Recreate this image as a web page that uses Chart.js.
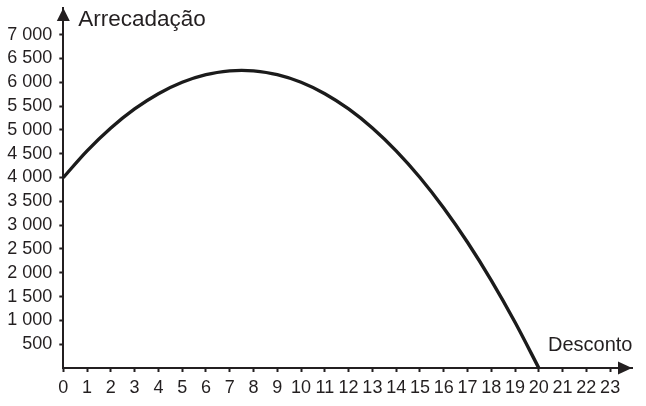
<!DOCTYPE html>
<html>
<head>
<meta charset="utf-8">
<script src="https://cdn.jsdelivr.net/npm/chart.js@4/dist/chart.umd.min.js"></script>
<style>
html,body{margin:0;padding:0;background:#fff;}
#wrap{width:646px;height:406px;position:relative;}
</style>
</head>
<body>
<div id="wrap"><canvas id="c" width="646" height="406"></canvas></div>
<script>
// Desconto values (x) and Arrecadação values (y)
const desconto = [0, 1, 2, 3, 4, 5, 6, 7, 7.5, 8, 9, 10, 11, 12, 13, 14, 15, 16, 17, 18, 19, 20];
const arrecadacao = [4000, 4560, 5040, 5440, 5760, 6000, 6160, 6240, 6250, 6240, 6160, 6000, 5760, 5440, 5040, 4560, 4000, 3360, 2640, 1840, 960, 0];
const xTicks = [0,1,2,3,4,5,6,7,8,9,10,11,12,13,14,15,16,17,18,19,20,21,22,23];
const yTicks = [500,1000,1500,2000,2500,3000,3500,4000,4500,5000,5500,6000,6500,7000];
const yTitle = 'Arrecadação';
const xTitle = 'Desconto';

const ink = '#231f20';
const fmt = v => String(v).replace(/\B(?=(\d{3})+(?!\d))/g, ' ');
const tickFont = { family: '"Liberation Sans", Arial, sans-serif', size: 18 };

const decor = {
  id: 'decor',
  afterDraw(chart) {
    const ctx = chart.ctx;
    const a = chart.chartArea;
    const xs = chart.scales.x, ys = chart.scales.y;
    const x0 = xs.getPixelForValue(0), y0 = ys.getPixelForValue(0);
    ctx.save();
    ctx.fillStyle = ink;
    // y arrow
    ctx.beginPath();
    ctx.moveTo(x0, a.top);
    ctx.lineTo(x0 - 6.5, a.top + 13);
    ctx.lineTo(x0 + 6.5, a.top + 13);
    ctx.closePath();
    ctx.fill();
    // x arrow
    ctx.beginPath();
    ctx.moveTo(a.right, y0);
    ctx.lineTo(a.right - 14, y0 - 6.5);
    ctx.lineTo(a.right - 14, y0 + 6.5);
    ctx.closePath();
    ctx.fill();
    ctx.textBaseline = 'alphabetic';
    ctx.textAlign = 'left';
    ctx.font = '22.5px "Liberation Sans", Arial, sans-serif';
    ctx.fillText(yTitle, x0 + 15, a.top + 18);
    ctx.font = '20px "Liberation Sans", Arial, sans-serif';
    ctx.fillText(xTitle, a.right - 84, y0 - 17);
    ctx.restore();
  }
};

new Chart(document.getElementById('c'), {
  type: 'line',
  data: {
    datasets: [{
      data: desconto.map((d, i) => ({x: d, y: arrecadacao[i]})),
      borderColor: '#1b1b1b',
      borderWidth: 3.4,
      pointRadius: 0,
      cubicInterpolationMode: 'monotone',
      fill: false,
      clip: false
    }]
  },
  options: {
    responsive: false,
    animation: false,
    events: [],
    layout: { padding: { left: 0, top: 8, right: 14, bottom: 0 } },
    plugins: { legend: { display: false }, tooltip: { enabled: false } },
    scales: {
      x: {
        type: 'linear',
        min: 0,
        max: 23.92,
        afterFit(s) { s.height = 38; s.paddingLeft = 0; s.paddingRight = 0; },
        afterBuildTicks(s) { s.ticks = xTicks.map(v => ({value: v})); },
        border: { display: true, color: ink, width: 2 },
        grid: { drawOnChartArea: false, drawTicks: true, tickLength: 4, tickWidth: 2, color: ink, tickColor: ink },
        ticks: {
          autoSkip: false, maxRotation: 0, padding: 5,
          color: ink,
          font: tickFont,
          callback: v => String(v)
        }
      },
      y: {
        type: 'linear',
        min: 0,
        max: 7560,
        afterFit(s) { s.width = 63.3; s.paddingTop = 0; s.paddingBottom = 0; },
        afterBuildTicks(s) { s.ticks = yTicks.map(v => ({value: v})); },
        border: { display: true, color: ink, width: 2 },
        grid: { drawOnChartArea: false, drawTicks: true, tickLength: 4, tickWidth: 2, color: ink, tickColor: ink },
        ticks: {
          autoSkip: false, padding: 7,
          color: ink,
          font: tickFont,
          callback: v => fmt(v)
        }
      }
    }
  },
  plugins: [decor]
});
</script>
</body>
</html>
